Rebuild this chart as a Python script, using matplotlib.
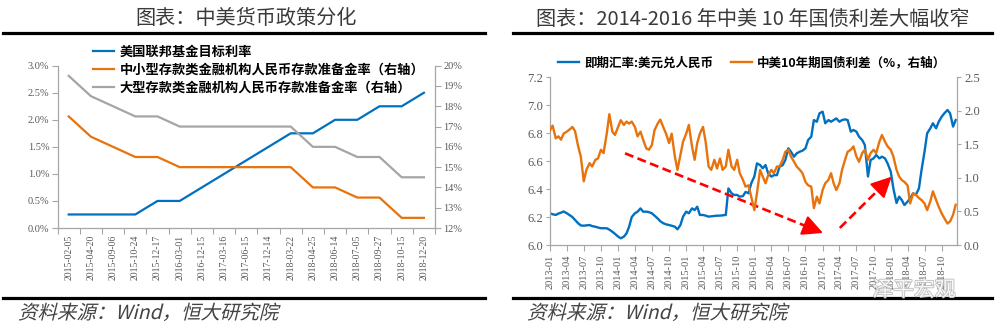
import numpy as np
import pandas as pd
import matplotlib
matplotlib.use("Agg")
import matplotlib.pyplot as plt
import matplotlib.dates as mdates
import matplotlib.transforms as mtransforms
import matplotlib.patheffects as pe
from matplotlib.ticker import MultipleLocator, FuncFormatter
from matplotlib.textpath import TextPath
from matplotlib.patches import PathPatch
from matplotlib.lines import Line2D
from matplotlib.font_manager import FontProperties

CJK = ['Noto Sans CJK SC', 'DejaVu Sans']
plt.rcParams['font.family'] = CJK
plt.rcParams['axes.unicode_minus'] = False

# ---------------- left panel: policy dates and rates ----------------
policy_dates = ['2015-02-05', '2015-04-20', '2015-09-06', '2015-10-24', '2015-12-17',
                '2016-03-01', '2016-12-15', '2017-03-16', '2017-06-15', '2017-12-14',
                '2018-03-22', '2018-04-25', '2018-06-14', '2018-07-05', '2018-09-27',
                '2018-10-15', '2018-12-20']
fed_target = [0.25, 0.25, 0.25, 0.25, 0.50, 0.50, 0.75, 1.00, 1.25, 1.50,
              1.75, 1.75, 2.00, 2.00, 2.25, 2.25, 2.50]
rrr_small = [17.5, 16.5, 16.0, 15.5, 15.5, 15.0, 15.0, 15.0, 15.0, 15.0,
             15.0, 14.0, 14.0, 13.5, 13.5, 12.5, 12.5]
rrr_large = [19.5, 18.5, 18.0, 17.5, 17.5, 17.0, 17.0, 17.0, 17.0, 17.0,
             17.0, 16.0, 16.0, 15.5, 15.5, 14.5, 14.5]

# ---------------- right panel: semi-monthly FX and yield spread ----------------
spread_dates = pd.date_range('2013-01-01', '2018-12-15', freq='SMS')
usdcny = [
    # 2013
    6.227, 6.220, 6.215, 6.225, 6.231, 6.240, 6.227, 6.215, 6.200, 6.180, 6.155, 6.140,
    6.138, 6.140, 6.143, 6.135, 6.131, 6.125, 6.120, 6.120, 6.120, 6.110, 6.095, 6.080,
    # 2014
    6.060, 6.048, 6.060, 6.083, 6.131, 6.200, 6.227, 6.238, 6.262, 6.238, 6.239, 6.235,
    6.227, 6.210, 6.190, 6.170, 6.155, 6.148, 6.143, 6.138, 6.131, 6.112, 6.143, 6.203,
    # 2015
    6.239, 6.227, 6.262, 6.250, 6.274, 6.215, 6.215, 6.210, 6.203, 6.205, 6.208, 6.210,
    6.210, 6.212, 6.215, 6.405, 6.370, 6.358, 6.358, 6.346, 6.350, 6.380, 6.370, 6.440,
    # 2016
    6.490, 6.584, 6.572, 6.549, 6.572, 6.513, 6.489, 6.500, 6.500, 6.560, 6.572, 6.608,
    6.692, 6.668, 6.632, 6.656, 6.668, 6.675, 6.692, 6.751, 6.775, 6.894, 6.882, 6.942,
    # 2017
    6.954, 6.871, 6.894, 6.882, 6.894, 6.906, 6.882, 6.894, 6.899, 6.894, 6.811, 6.823,
    6.811, 6.775, 6.751, 6.716, 6.490, 6.608, 6.620, 6.644, 6.620, 6.632, 6.620, 6.584,
    # 2018
    6.525, 6.405, 6.300, 6.346, 6.322, 6.286, 6.310, 6.334, 6.370, 6.358, 6.405, 6.537,
    6.668, 6.799, 6.835, 6.871, 6.835, 6.882, 6.918, 6.942, 6.966, 6.942, 6.847, 6.894,
]
cn_us_spread = [
    # 2013
    1.71, 1.78, 1.59, 1.62, 1.57, 1.66, 1.69, 1.72, 1.76, 1.70, 1.47, 1.32,
    0.95, 1.12, 1.22, 1.17, 1.27, 1.29, 1.42, 1.37, 1.66, 1.95, 1.69, 1.64,
    # 2014
    1.76, 1.86, 1.79, 1.84, 1.81, 1.84, 1.76, 1.62, 1.69, 1.57, 1.44, 1.42,
    1.49, 1.71, 1.81, 1.87, 1.75, 1.66, 1.52, 1.66, 1.32, 1.12, 1.34, 1.54,
    # 2015
    1.66, 1.79, 1.47, 1.27, 1.52, 1.66, 1.76, 1.54, 1.17, 1.12, 1.27, 1.14,
    1.29, 1.12, 1.17, 1.42, 1.17, 1.12, 1.27, 1.07, 0.97, 0.87, 0.89, 0.72,
    # 2016
    0.52, 0.77, 1.12, 1.02, 0.92, 1.04, 1.12, 1.07, 1.17, 1.17, 1.27, 1.39,
    1.42, 1.32, 1.24, 1.17, 1.12, 1.07, 0.94, 0.89, 0.87, 0.55, 0.72, 0.62,
    # 2017
    0.82, 0.92, 0.97, 1.07, 0.92, 0.82, 0.92, 1.12, 1.27, 1.39, 1.42, 1.47,
    1.32, 1.24, 1.37, 1.42, 1.27, 1.37, 1.42, 1.37, 1.54, 1.64, 1.54, 1.47,
    # 2018
    1.42, 1.32, 1.12, 1.02, 0.97, 0.94, 0.89, 0.62, 0.77, 0.75, 0.70, 0.67,
    0.62, 0.52, 0.65, 0.80, 0.67, 0.57, 0.47, 0.40, 0.32, 0.35, 0.45, 0.60,
]
quarter_ticks = pd.date_range('2013-01-01', '2018-10-01', freq='QS')

# dashed trend arrows on the FX axis: (start, end)
trend_arrows = [(('2014-02-07', 6.656), ('2017-01-03', 6.086)),
                (('2017-04-03', 6.122), ('2018-01-06', 6.489))]

BLUE = '#0070C0'
ORANGE = '#E8730C'
GRAY = '#A5A5A5'
SPINE = '#A6A6A6'
TICK = '#595959'

W, H = 996, 329
fig = plt.figure(figsize=(W / 100, H / 100), dpi=100)


def px_axes(x0, y0, x1, y1):
    # axes box given by pixel edges (top-left origin)
    return fig.add_axes([x0 / W, 1 - y1 / H, (x1 - x0) / W, (y1 - y0) / H])


def hline(x0, x1, y, lw=2.3):
    fig.add_artist(Line2D([x0 / W, x1 / W], [1 - y / H, 1 - y / H],
                          transform=fig.transFigure, color='black', lw=lw))


def slanted_text(x, y, s, size=14, color='#3c3c3c', skew=14):
    # CJK fonts carry no italic face, so shear the glyph outlines instead
    path = TextPath((0, 0), s, size=size, prop=FontProperties(family=CJK))
    tr = (mtransforms.Affine2D().skew_deg(skew, 0).scale(fig.dpi / 72)
          .translate(x, H - y))
    fig.add_artist(PathPatch(path, transform=tr, facecolor=color, edgecolor='none'))


def style_axes(ax, axr):
    ax.spines['top'].set_visible(False)
    axr.spines['top'].set_visible(False)
    ax.spines['right'].set_visible(False)
    axr.spines['left'].set_visible(False)
    axr.spines['bottom'].set_visible(False)
    for sp in ['left', 'bottom']:
        ax.spines[sp].set_color(SPINE)
        ax.spines[sp].set_linewidth(0.9)
    axr.spines['right'].set_color(SPINE)
    axr.spines['right'].set_linewidth(0.9)


def serif_ticks(ax, axis, size):
    lbls = ax.get_xticklabels() if axis == 'x' else ax.get_yticklabels()
    for t in lbls:
        t.set_fontfamily('Liberation Serif')
        t.set_fontsize(size)
        t.set_color(TICK)


# ================= left panel =================
ax1 = px_axes(57.6, 65.7, 435, 228)
ax1r = ax1.twinx()
x = np.arange(len(policy_dates))
l1, = ax1.plot(x, fed_target, color=BLUE, lw=1.6)
l2, = ax1r.plot(x, rrr_small, color=ORANGE, lw=1.6)
l3, = ax1r.plot(x, rrr_large, color=GRAY, lw=1.6)

ax1.set_xlim(-0.5, len(policy_dates) - 0.5)
ax1.set_ylim(0, 3.0)
ax1r.set_ylim(12, 20)
ax1.yaxis.set_major_locator(MultipleLocator(0.5))
ax1.yaxis.set_major_formatter(FuncFormatter(lambda v, p: f'{v:.1f}%'))
ax1r.yaxis.set_major_locator(MultipleLocator(1))
ax1r.yaxis.set_major_formatter(FuncFormatter(lambda v, p: f'{v:.0f}%'))
ax1.set_xticks(x)
ax1.set_xticklabels(policy_dates, rotation=90)
ax1.set_xticks(np.arange(-0.5, len(policy_dates)), minor=True)
ax1.tick_params(axis='x', which='major', length=0, pad=5)
ax1.tick_params(axis='x', which='minor', length=4, color=SPINE, width=0.8)
ax1.tick_params(axis='y', length=4, color=SPINE, width=0.8, pad=2)
ax1r.tick_params(axis='y', length=4, color=SPINE, width=0.8, pad=2)
style_axes(ax1, ax1r)
serif_ticks(ax1, 'x', 7)
serif_ticks(ax1, 'y', 7.5)
serif_ticks(ax1r, 'y', 7.5)

fig.legend([l1, l2, l3],
           ['美国联邦基金目标利率',
            '中小型存款类金融机构人民币存款准备金率（右轴）',
            '大型存款类金融机构人民币存款准备金率（右轴）'],
           loc='upper left', bbox_to_anchor=(93 / W, 1 - 45 / H), frameon=False,
           prop=FontProperties(family=CJK, size=9.5, weight='bold'),
           handlelength=1.6, handletextpad=0.4, labelspacing=0.3,
           borderaxespad=0, borderpad=0)

# ================= right panel =================
ax2 = px_axes(550, 77.3, 957, 245)
ax2r = ax2.twinx()
b, = ax2.plot(spread_dates, usdcny, color=BLUE, lw=1.7)
o, = ax2r.plot(spread_dates, cn_us_spread, color=ORANGE, lw=1.7)

ax2.set_xlim(pd.Timestamp('2013-01-01'), pd.Timestamp('2018-12-22'))
ax2.set_ylim(6.0, 7.2)
ax2r.set_ylim(0, 2.5)
ax2.yaxis.set_major_locator(MultipleLocator(0.2))
ax2.yaxis.set_major_formatter(FuncFormatter(lambda v, p: f'{v:.1f}'))
ax2r.yaxis.set_major_locator(MultipleLocator(0.5))
ax2r.yaxis.set_major_formatter(FuncFormatter(lambda v, p: f'{v:.1f}'))
ax2.set_xticks(quarter_ticks)
ax2.set_xticklabels([d.strftime('%Y-%m') for d in quarter_ticks], rotation=90)
ax2.tick_params(axis='x', length=4, color=SPINE, width=0.8, pad=3)
ax2.tick_params(axis='y', length=3, color=SPINE, width=0.8, pad=2)
ax2r.tick_params(axis='y', length=3, color=SPINE, width=0.8, pad=2)
style_axes(ax2, ax2r)
serif_ticks(ax2, 'x', 7.5)
serif_ticks(ax2, 'y', 9)
serif_ticks(ax2r, 'y', 9)

# dashed red arrows: dashed shaft plus solid head
for (d0, v0), (d1, v1) in trend_arrows:
    p0 = np.array([mdates.date2num(pd.Timestamp(d0)), v0])
    p1 = np.array([mdates.date2num(pd.Timestamp(d1)), v1])
    s = ax2.transData.transform(p0)
    e = ax2.transData.transform(p1)
    u = (e - s) / np.hypot(*(e - s))
    neck = ax2.transData.inverted().transform(e - u * 10)
    ax2.plot([p0[0], neck[0]], [p0[1], neck[1]], color='#FF0000', lw=1.9,
             linestyle=(0, (3.4, 1.7)), zorder=5)
    ax2.annotate('', xy=p1, xytext=neck,
                 arrowprops=dict(arrowstyle='-|>,head_length=0.9,head_width=0.45',
                                 color='#FF0000', lw=1.5, mutation_scale=14,
                                 shrinkA=0, shrinkB=0), zorder=6)

fig.legend([b, o], ['即期汇率:美元兑人民币', '中美10年期国债利差（%，右轴）'],
           loc='center', bbox_to_anchor=(752 / W, 1 - 63 / H), ncol=2, frameon=False,
           prop=FontProperties(family=CJK, size=9, weight='bold'),
           handlelength=1.7, handletextpad=0.4, columnspacing=1.4,
           borderaxespad=0, borderpad=0)

# ================= titles, rules, source notes =================
fig.text(246 / W, 1 - 19 / H, '图表：中美货币政策分化', ha='center', va='center',
         fontsize=14.5, color='#3a3a3a', fontweight='light')
fig.text(753 / W, 1 - 19 / H, '图表：2014-2016 年中美 10 年国债利差大幅收窄',
         ha='center', va='center', fontsize=14.5, color='#3a3a3a', fontweight='light')
hline(3, 485, 32.5)
hline(513, 992, 32.5)
hline(3, 485, 297.7)
hline(513, 992, 297.7)
slanted_text(18, 319, '资料来源：Wind，恒大研究院', color='#444444')
slanted_text(527, 319, '资料来源：Wind，恒大研究院', color='#444444')

# faint outlined watermark sitting over the date labels
fig.text(914 / W, 1 - 290 / H, '泽平宏观', ha='center', va='center', fontsize=15,
         color='white', alpha=0.9,
         path_effects=[pe.withStroke(linewidth=1.2, foreground='#b5b5b5')])

fig.savefig('out.png', dpi=100)
